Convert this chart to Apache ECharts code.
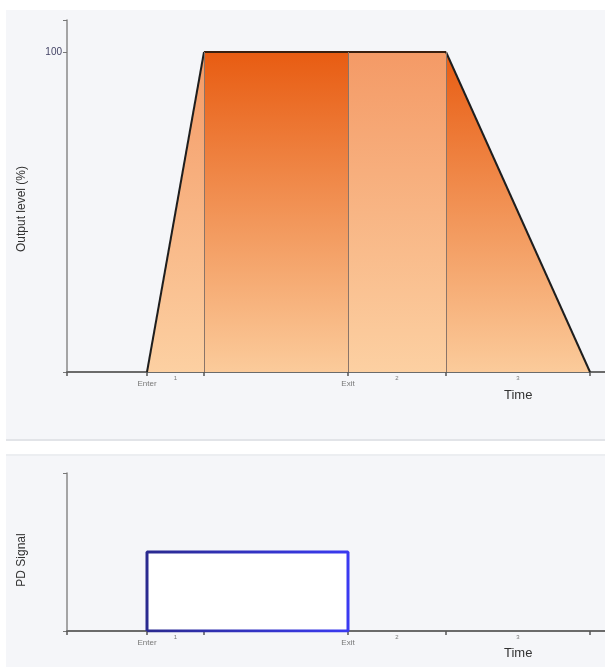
<!DOCTYPE html>
<html>
<head>
<meta charset="utf-8">
<script src="https://cdn.jsdelivr.net/npm/echarts@6/dist/echarts.min.js"></script>
<style>
html,body{margin:0;padding:0;background:#fff;}
#c{width:605px;height:667px;}
</style>
</head>
<body>
<div id="c"></div>
<script>
// ---- data (time in arbitrary units, output level in %) ----
var tEnter = 8.0;
var tRampEnd = 13.7;
var tExit = 28.1;
var tDelayEnd = 37.9;
var tEnd = 52.3;
var tMax = 53.8;
var levelMax = 100;
var outputYMax = 110;
var signalLevel = 1;
var signalYMax = 2;

var mainTickNames = ['Enter', 'Exit'];
var mainTickValues = [tEnter, tExit];
var boundaryTicks = [0, tEnter, tRampEnd, tExit, tDelayEnd, tEnd];
var segmentNames = ['1', '2', '3'];
var segmentMid = [(tEnter + tRampEnd) / 2, (tExit + tDelayEnd) / 2, (tDelayEnd + tEnd) / 2];

var rampUp = [[tEnter, 0], [tRampEnd, levelMax]];
var plateau1 = [[tRampEnd, levelMax], [tExit, levelMax]];
var plateau2 = [[tExit, levelMax], [tDelayEnd, levelMax]];
var rampDown = [[tDelayEnd, levelMax], [tEnd, 0]];
var dividers = [tRampEnd, tExit, tDelayEnd];
var signal = [[tEnter, 0], [tEnter, signalLevel], [tExit, signalLevel], [tExit, 0], [tEnter, 0]];

function nameFor(vals, names) {
  return function (v) {
    for (var i = 0; i < vals.length; i++) if (Math.abs(vals[i] - v) < 1e-6) return names[i];
    return '';
  };
}

var dark = new echarts.graphic.LinearGradient(0, 0, 0, 1, [
  {offset: 0, color: '#e85c12'}, {offset: 1, color: '#fbcb9b'}]);
var light = new echarts.graphic.LinearGradient(0, 0, 0, 1, [
  {offset: 0, color: '#f49a66'}, {offset: 1, color: '#fcd0a2'}]);

var font = 'Liberation Sans, Arial, sans-serif';

function mainX(grid) {
  return {
    type: 'value', gridIndex: grid, min: 0, max: tMax, position: 'bottom',
    axisLine: {show: true, lineStyle: {color: '#6b6b6b', width: 2}},
    axisTick: {show: true, length: 4, customValues: boundaryTicks, lineStyle: {color: '#555', width: 1.5}},
    axisLabel: {show: true, customValues: mainTickValues, formatter: nameFor(mainTickValues, mainTickNames),
      fontSize: 8, color: '#777', margin: 8, fontFamily: font},
    splitLine: {show: false}
  };
}
function segX(grid) {
  return {
    type: 'value', gridIndex: grid, min: 0, max: tMax, position: 'bottom', offset: 0,
    axisLine: {show: false}, axisTick: {show: false}, splitLine: {show: false},
    axisLabel: {show: true, customValues: segmentMid, formatter: nameFor(segmentMid, segmentNames),
      fontSize: 6, color: '#777', margin: 3, fontFamily: font}
  };
}

var chart = echarts.init(document.getElementById('c'), null, {renderer: 'canvas'});
chart.setOption({
  animation: false,
  backgroundColor: '#ffffff',
  graphic: [
    {type: 'rect', z: -10, shape: {x: 6, y: 10, width: 599, height: 429}, style: {fill: '#f5f6f9'}},
    {type: 'rect', z: -10, shape: {x: 6, y: 439, width: 599, height: 2}, style: {fill: '#e2e4e8'}},
    {type: 'rect', z: -10, shape: {x: 6, y: 454, width: 599, height: 213}, style: {fill: '#f5f6f9'}},
    {type: 'rect', z: -10, shape: {x: 6, y: 454, width: 599, height: 2}, style: {fill: '#eceef1'}},
    {type: 'text', left: 504, top: 389, style: {text: 'Time', fontSize: 13, fill: '#333', fontFamily: font}},
    {type: 'text', left: 504, top: 647, style: {text: 'Time', fontSize: 13, fill: '#333', fontFamily: font}}
  ],
  grid: [
    {left: 67, right: 0, top: 20, bottom: 295, outerBoundsMode: 'none'},
    {left: 67, right: 0, top: 473, bottom: 36, outerBoundsMode: 'none'}
  ],
  xAxis: [mainX(0), segX(0), mainX(1), segX(1)],
  yAxis: [
    {type: 'value', gridIndex: 0, min: 0, max: outputYMax,
      name: 'Output level (%)', nameLocation: 'middle', nameGap: 39,
      nameTextStyle: {fontSize: 12, color: '#333', fontFamily: font, padding: [0, 0, 0, -26]},
      axisLine: {show: true, lineStyle: {color: '#888', width: 1.5}},
      axisTick: {show: true, length: 4, customValues: [0, levelMax, outputYMax], lineStyle: {color: '#777'}},
      axisLabel: {show: true, customValues: [levelMax], fontSize: 10, color: '#446', margin: 5, fontFamily: font},
      splitLine: {show: false}},
    {type: 'value', gridIndex: 1, min: 0, max: signalYMax,
      name: 'PD Signal', nameLocation: 'middle', nameGap: 39,
      nameTextStyle: {fontSize: 12, color: '#333', fontFamily: font, padding: [0, 0, 0, -16]},
      axisLine: {show: true, lineStyle: {color: '#888', width: 1.5}},
      axisTick: {show: true, length: 4, customValues: [0, signalYMax], lineStyle: {color: '#777'}},
      axisLabel: {show: false},
      splitLine: {show: false}}
  ],
  series: [
    {type: 'line', xAxisIndex: 0, yAxisIndex: 0, data: rampUp, symbol: 'none',
      lineStyle: {color: '#1e1e1e', width: 2}, areaStyle: {color: light, opacity: 1}},
    {type: 'line', xAxisIndex: 0, yAxisIndex: 0, data: plateau1, symbol: 'none',
      lineStyle: {color: '#3a2010', width: 2}, areaStyle: {color: dark, opacity: 1}},
    {type: 'line', xAxisIndex: 0, yAxisIndex: 0, data: plateau2, symbol: 'none',
      lineStyle: {color: '#3a2010', width: 2}, areaStyle: {color: light, opacity: 1}},
    {type: 'line', xAxisIndex: 0, yAxisIndex: 0, data: rampDown, symbol: 'none',
      lineStyle: {color: '#1e1e1e', width: 2}, areaStyle: {color: dark, opacity: 1},
      markLine: {silent: true, symbol: 'none', label: {show: false},
        lineStyle: {color: '#8a7468', width: 1, type: 'solid'},
        data: dividers.map(function (d) { return [{coord: [d, 0]}, {coord: [d, levelMax]}]; })}},
    {type: 'line', xAxisIndex: 2, yAxisIndex: 1, data: signal, symbol: 'none',
      lineStyle: {width: 3, color: new echarts.graphic.LinearGradient(0, 0, 1, 0, [
        {offset: 0, color: '#2a2a8e'}, {offset: 1, color: '#3a3af2'}])},
      areaStyle: {color: '#ffffff', opacity: 1}}
  ]
});
</script>
</body>
</html>
